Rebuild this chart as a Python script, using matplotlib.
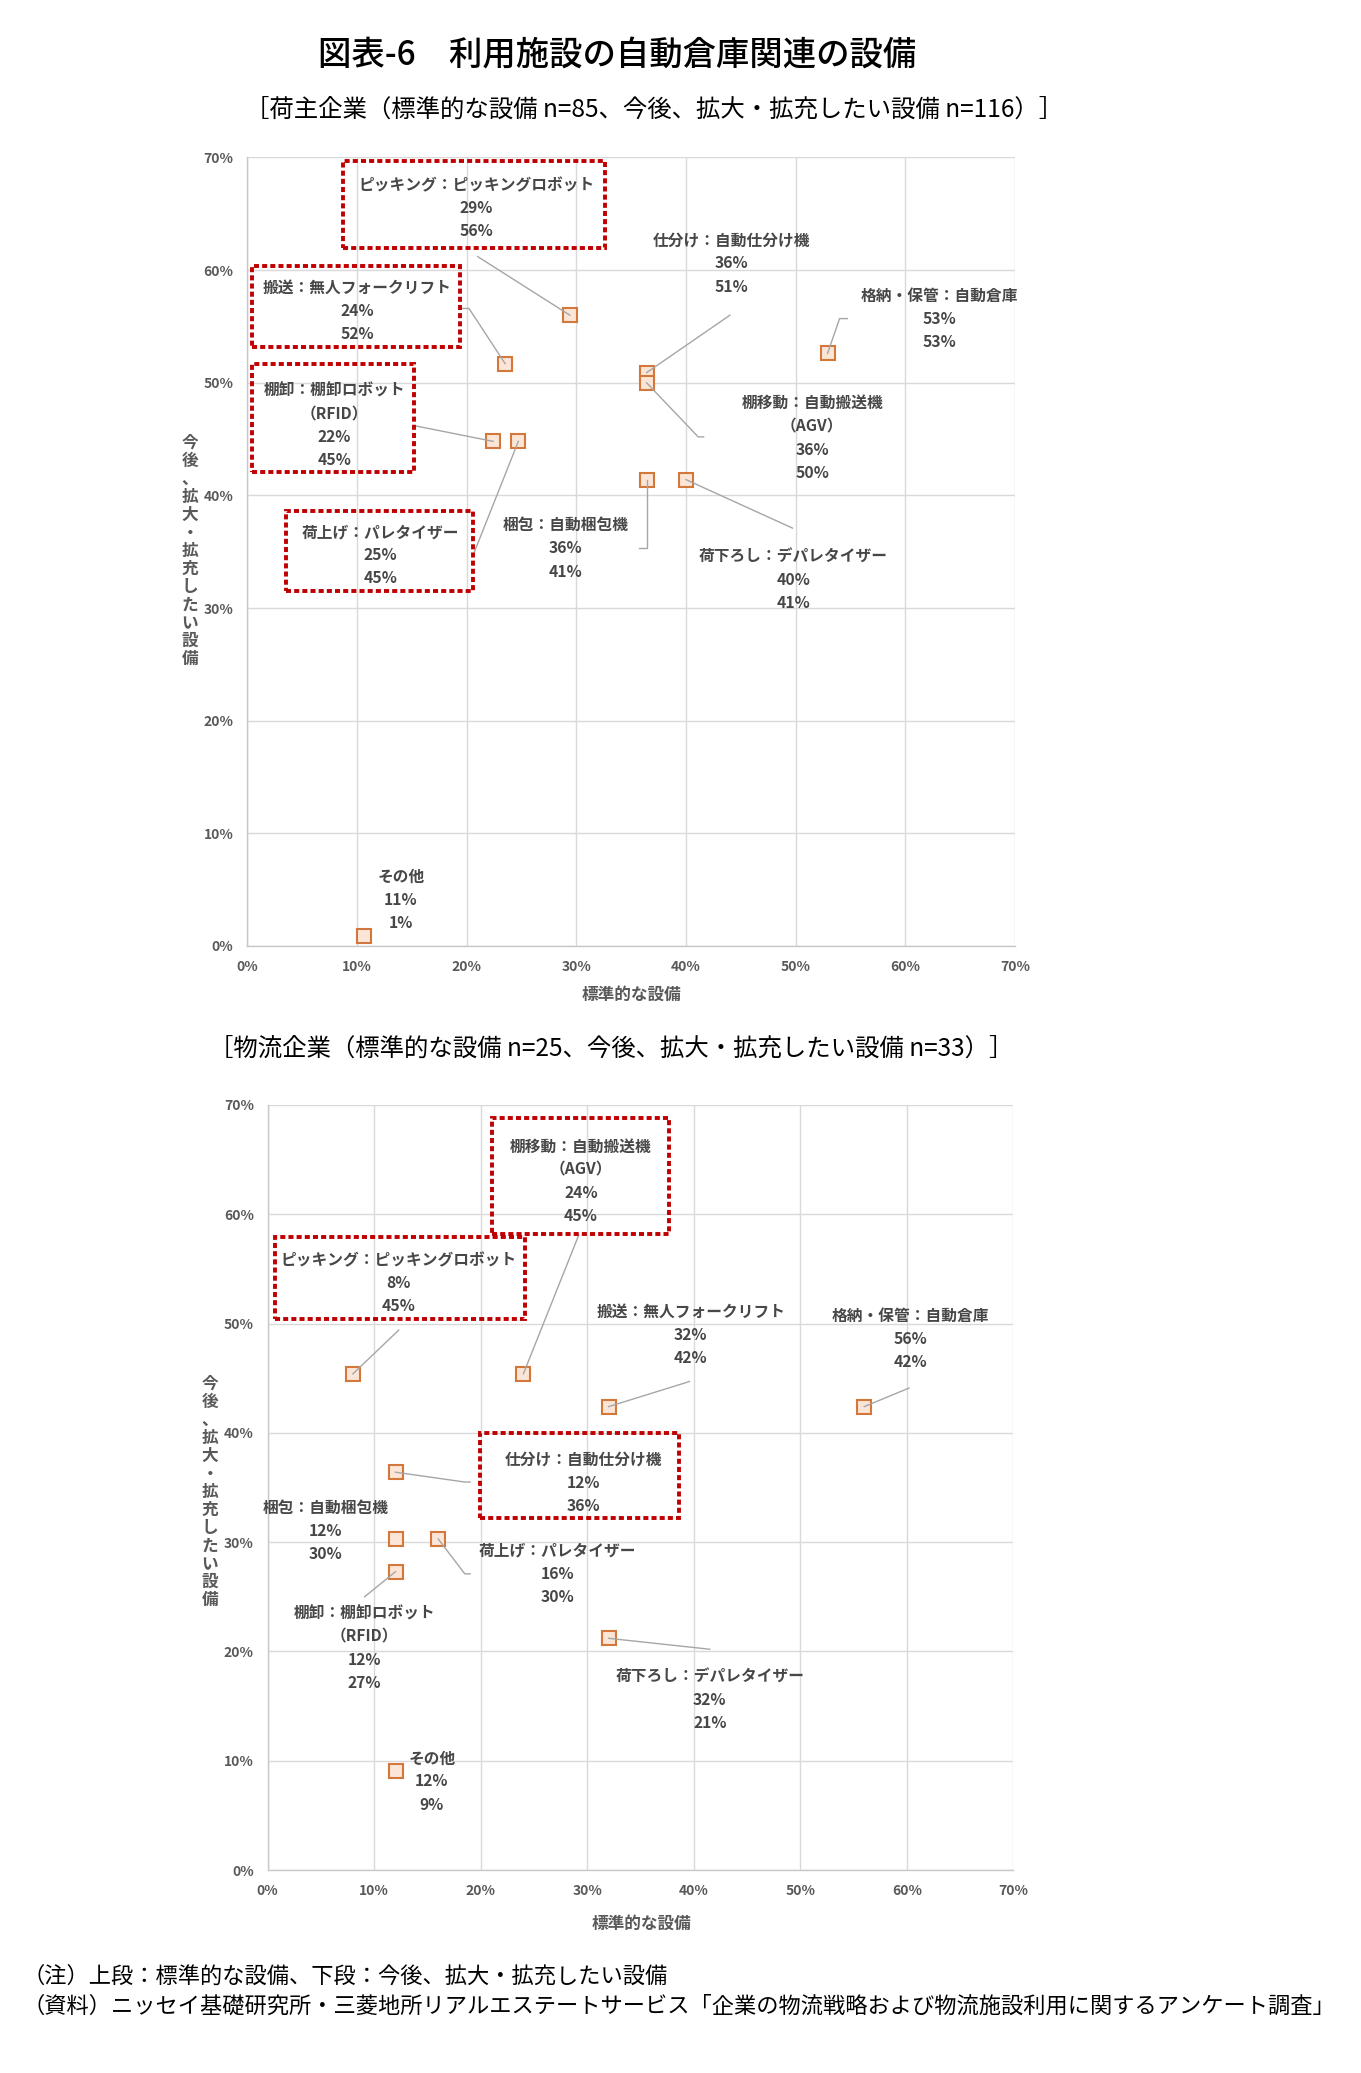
import numpy as np
import matplotlib.pyplot as plt
from matplotlib.patches import Rectangle
from matplotlib.ticker import FuncFormatter

plt.rcParams['font.family'] = ['Noto Sans CJK JP', 'DejaVu Sans']

W, H = 1361, 2073

# ---------------- data ----------------
# 荷主企業 (n=85 / n=116)
shipper_names = ['ピッキング：ピッキングロボット', '搬送：無人フォークリフト',
                 '棚卸：棚卸ロボット\n（RFID）', '荷上げ：パレタイザー', '梱包：自動梱包機',
                 '仕分け：自動仕分け機', '格納・保管：自動倉庫', '棚移動：自動搬送機\n（AGV）',
                 '荷下ろし：デパレタイザー', 'その他']
shipper_std = [29.4, 23.5, 22.4, 24.7, 36.4, 36.4, 52.9, 36.4, 40.0, 10.6]
shipper_future = [56.0, 51.7, 44.8, 44.8, 41.4, 50.9, 52.6, 50.0, 41.4, 0.9]
shipper_boxed = [True, True, True, True, False, False, False, False, False, False]

# 物流企業 (n=25 / n=33)
logi_names = ['棚移動：自動搬送機\n（AGV）', 'ピッキング：ピッキングロボット',
              '搬送：無人フォークリフト', '格納・保管：自動倉庫', '仕分け：自動仕分け機',
              '梱包：自動梱包機', '荷上げ：パレタイザー', '棚卸：棚卸ロボット\n（RFID）',
              '荷下ろし：デパレタイザー', 'その他']
logi_std = [24.0, 8.0, 32.0, 56.0, 12.0, 12.0, 16.0, 12.0, 32.0, 12.0]
logi_future = [45.4, 45.4, 42.4, 42.4, 36.4, 30.3, 30.3, 27.3, 21.2, 9.1]
logi_boxed = [True, True, False, False, True, False, False, False, False, False]

# ---------------- label layout (axis %) ----------------
shipper_label_pos = [(20.9, 65.5), (10.0, 56.4), (7.9, 46.2), (12.1, 34.7), (29.0, 35.3),
                     (44.1, 60.6), (63.1, 55.7), (51.5, 45.1), (49.8, 32.5), (14.0, 4.1)]
shipper_leaders = [[(21.0, 61.2)], [(19.6, 56.6), (20.2, 56.6)], [(15.2, 46.2)],
                   [(20.7, 35.0)], [(35.7, 35.3), (36.4, 35.3)], [(44.0, 56.0)],
                   [(54.7, 55.7), (54.0, 55.7)], [(41.6, 45.2), (41.1, 45.2)],
                   [(49.7, 37.1)], None]
shipper_box_xy = [(8.7, 32.6, 62.0, 69.7), (0.4, 19.4, 53.2, 60.4),
                  (0.4, 15.2, 42.1, 51.7), (3.5, 20.6, 31.5, 38.6)]

logi_label_pos = [(29.4, 63.0), (12.3, 53.7), (39.7, 49.0), (60.3, 48.6), (29.6, 35.4),
                  (5.4, 31.0), (27.2, 27.1), (9.1, 20.3), (41.5, 15.6), (15.4, 8.1)]
logi_leaders = [[(29.2, 58.1)], [(12.3, 49.4)], [(39.6, 44.7)], [(60.2, 44.1)],
                [(19.0, 35.5), (18.5, 35.5)], None, [(19.0, 27.1), (18.5, 27.1)],
                [(9.1, 25.0)], [(41.5, 20.2)], None]
logi_box_xy = [(21.1, 37.7, 58.2, 68.8), (0.7, 24.2, 50.4, 57.9), (19.9, 38.6, 32.2, 40.0)]

TXT = '#595959'
LBL = '#474747'
GRID = '#d9d9d9'
RED = '#c00000'


def fx(px):
    return px / W


def fy(py):
    return 1 - py / H


def draw_chart(ax, names, xs, ys, label_pos, leaders, boxed, boxes):
    ax.set_xlim(0, 70)
    ax.set_ylim(0, 70)
    ticks = np.arange(0, 71, 10)
    ax.set_xticks(ticks)
    ax.set_yticks(ticks)
    pct = FuncFormatter(lambda v, p: f'{v:.0f}%')
    ax.xaxis.set_major_formatter(pct)
    ax.yaxis.set_major_formatter(pct)
    ax.tick_params(length=0, labelsize=10, colors=TXT)
    ax.tick_params(axis='y', pad=10)
    ax.tick_params(axis='x', pad=10)
    for t in ax.get_xticklabels() + ax.get_yticklabels():
        t.set_fontweight('bold')
    ax.grid(True, color=GRID, lw=1.0)
    ax.set_axisbelow(True)
    for s in ['top', 'right']:
        ax.spines[s].set_visible(False)
    for s in ['left', 'bottom']:
        ax.spines[s].set_color('#c8c8c8')
        ax.spines[s].set_linewidth(1.0)

    ax.plot(xs, ys, 's', ms=9.5, mfc='#fbe5d6', mec='#d4773a', mew=1.5,
            zorder=3, clip_on=False)

    for i, name in enumerate(names):
        lx, ly = label_pos[i]
        txt = f'{name}\n{xs[i]:.0f}%\n{ys[i]:.0f}%'
        ax.text(lx, ly, txt, ha='center', va='center', fontsize=11.3,
                fontweight='bold', color=LBL, linespacing=1.55, zorder=5)
        if leaders[i] is not None:
            pts = leaders[i] + [(xs[i], ys[i])]
            ax.plot([p[0] for p in pts], [p[1] for p in pts], color='#a6a6a6',
                    lw=1.0, zorder=4, clip_on=False)

    for (x0, x1, y0, y1) in boxes:
        ax.add_patch(Rectangle((x0, y0), x1 - x0, y1 - y0, fill=False,
                               edgecolor=RED, lw=2.8, linestyle=(0, (1.3, 0.8)),
                               joinstyle='miter', clip_on=False, zorder=6))


fig = plt.figure(figsize=(W / 100, H / 100), dpi=100)
fig.patch.set_facecolor('white')

ax1 = fig.add_axes([fx(247.5), fy(946), (1015 - 247.5) / W, (946 - 157.5) / H])
draw_chart(ax1, shipper_names, shipper_std, shipper_future, shipper_label_pos,
           shipper_leaders, shipper_boxed, shipper_box_xy)

ax2 = fig.add_axes([fx(267.7), fy(1870), (1013.4 - 267.7) / W, (1870 - 1105) / H])
draw_chart(ax2, logi_names, logi_std, logi_future, logi_label_pos,
           logi_leaders, logi_boxed, logi_box_xy)

# titles
fig.text(fx(617), fy(56), '図表-6\u3000利用施設の自動倉庫関連の設備', ha='center', va='center',
         fontsize=24, fontweight='medium', color='black')
fig.text(fx(654), fy(110), '［荷主企業（標準的な設備 n=85、今後、拡大・拡充したい設備 n=116）］',
         ha='center', va='center', fontsize=17.6, color='black')
fig.text(fx(611), fy(1049), '［物流企業（標準的な設備 n=25、今後、拡大・拡充したい設備 n=33）］',
         ha='center', va='center', fontsize=17.6, color='black')

# axis labels
ylab = '今後、拡大・拡充したい設備'
fig.text(fx(632), fy(995), '標準的な設備', ha='center', va='center', fontsize=12,
         fontweight='bold', color=TXT)
fig.text(fx(642), fy(1924), '標準的な設備', ha='center', va='center', fontsize=12,
         fontweight='bold', color=TXT)
fig.text(fx(190), fy(551), '\n'.join(ylab), ha='center', va='center', fontsize=12,
         fontweight='bold', color=TXT, linespacing=1.0)
fig.text(fx(210), fy(1492), '\n'.join(ylab), ha='center', va='center', fontsize=12,
         fontweight='bold', color=TXT, linespacing=1.0)

# notes
fig.text(fx(22), fy(1976), '（注）上段：標準的な設備、下段：今後、拡大・拡充したい設備',
         ha='left', va='center', fontsize=16.0, color='black')
fig.text(fx(22), fy(2006),
         '（資料）ニッセイ基礎研究所・三菱地所リアルエステートサービス「企業の物流戦略および物流施設利用に関するアンケート調査」',
         ha='left', va='center', fontsize=16.0, color='black')

fig.savefig('out.png', dpi=100, facecolor='white')
